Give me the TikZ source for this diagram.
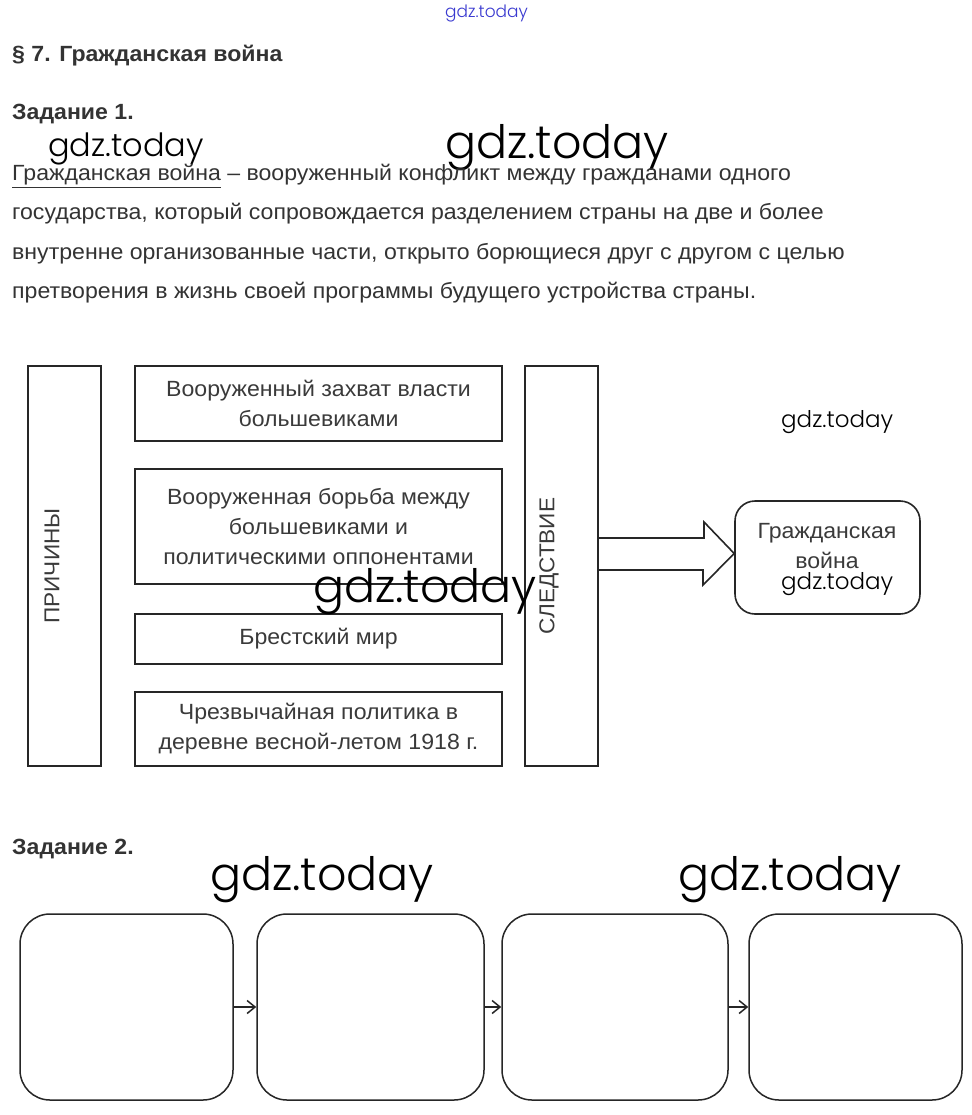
\documentclass[tikz,border=0pt]{standalone}
\usepackage{fontspec}
\setmainfont{Liberation Sans}[FakeStretch=1.05]
\IfFontExistsTF{Poppins Light}{\newfontfamily\wm{Poppins Light}}{\newfontfamily\wm{Poppins}}
\usetikzlibrary{arrows.meta}
\definecolor{txt}{HTML}{333333}
\definecolor{dtxt}{HTML}{3A3A3A}
\definecolor{ln}{HTML}{262626}
\definecolor{wmblue}{HTML}{3A3AD0}
\begin{document}
\begin{tikzpicture}[x=1pt,y=-1pt,
  body/.style={anchor=base west,inner sep=0pt,text=txt,font=\fontsize{22}{25}\selectfont},
  head/.style={anchor=base west,inner sep=0pt,text=txt,font=\bfseries\fontsize{22}{25}\selectfont},
  mark/.style={anchor=base west,inner sep=0pt,text=black,font=\wm\fontsize{#1}{#1}\selectfont},
  mark/.default=46,
  sqbox/.style={draw=ln,line width=2pt,rectangle,inner sep=0pt,minimum width=367pt,
     text=dtxt,align=center,font=\fontsize{22}{30}\selectfont},
  tallbox/.style={draw=ln,line width=2pt,rectangle,inner sep=0pt,minimum width=73pt,minimum height=400pt},
  vtext/.style={rotate=90,inner sep=0pt,text=dtxt,font=\fontsize{21.5}{26}\selectfont},
  rbox/.style={draw=ln,line width=1.6pt,rounded corners=20pt,minimum width=185pt,minimum height=113pt,inner sep=0pt},
  ebox/.style={draw=ln,line width=1.5pt,rounded corners=30pt,minimum height=186pt,inner sep=0pt},
  flow/.style={draw=ln,line width=1.5pt,-{Straight Barb[length=8pt,width=13pt,line width=1.5pt]}}
]
\useasboundingbox (0,0) rectangle (971,1115);
\fill[white] (0,0) rectangle (971,1115);

% watermark top
\node[anchor=base west,inner sep=0pt,text=wmblue,font=\wm\fontsize{17}{17}\selectfont] (wtop) at (445,18) {gdz.today};

% headings
\node[head] (title) at (12,62) {§ 7. Гражданская война};
\node[head] (task1) at (12,120) {Задание 1.};

% watermarks
\node[mark=32] (w1) at (48,157) {gdz.today};
\node[mark] (w2) at (445,159) {gdz.today};

% definition
\node[body] (d1) at (12,181) {\underline{Гражданская война} – вооруженный конфликт между гражданами одного};
\node[body] (d2) at (12,220) {государства, который сопровождается разделением страны на две и более};
\node[body] (d3) at (12,259) {внутренне организованные части, открыто борющиеся друг с другом с целью};
\node[body] (d4) at (12,298) {претворения в жизнь своей программы будущего устройства страны.};

% diagram
\node[tallbox] (pr) at (64.5,566) {};
\node[vtext] (prt) at (52,566) {ПРИЧИНЫ};
\node[sqbox,minimum height=75pt] (c1) at (318.5,403.5) {Вооруженный захват власти\\большевиками};
\node[sqbox,minimum height=115pt] (c2) at (318.5,526.5) {Вооруженная борьба между\\большевиками и\\политическими оппонентами};
\node[sqbox,minimum height=50pt] (c3) at (318.5,639) {Брестский мир};
\node[sqbox,minimum height=74pt] (c4) at (318.5,729) {Чрезвычайная политика в\\деревне весной-летом 1918 г.};
\node[tallbox] (sl) at (561.5,566) {};
\node[vtext] (slt) at (549,566) {СЛЕДСТВИЕ};

\node[rbox] (gw) at (827.5,557.5) {};
\node[inner sep=0pt,align=center,text=dtxt,font=\fontsize{22}{30}\selectfont] (gwt) at (827,546) {Гражданская\\война};

\draw[ln,line width=1.6pt]
  ([yshift=28pt]sl.east) -- ++(105,0) -- ++(0,-16) -- ([yshift=4pt]gw.west)
  -- (703,585) -- (703,570) -- ([yshift=-4pt]sl.east);

\node[mark=23] (w3) at (781,427) {gdz.today};
\node[mark] (w4) at (313,602) {gdz.today};
\node[mark=23] (w5) at (781,589) {gdz.today};

% task 2
\node[head] (task2) at (12,854) {Задание 2.};
\node[mark] (w6) at (210,890) {gdz.today};
\node[mark] (w7) at (678,890) {gdz.today};

\node[ebox,minimum width=213pt] (b1) at (126.5,1007) {};
\node[ebox,minimum width=227pt] (b2) at (370.5,1007) {};
\node[ebox,minimum width=226pt] (b3) at (615,1007) {};
\node[ebox,minimum width=213pt] (b4) at (855.5,1007) {};
\draw[flow] (b1.east) -- (b2.west);
\draw[flow] (b2.east) -- (b3.west);
\draw[flow] (b3.east) -- (b4.west);
\end{tikzpicture}
\end{document}
